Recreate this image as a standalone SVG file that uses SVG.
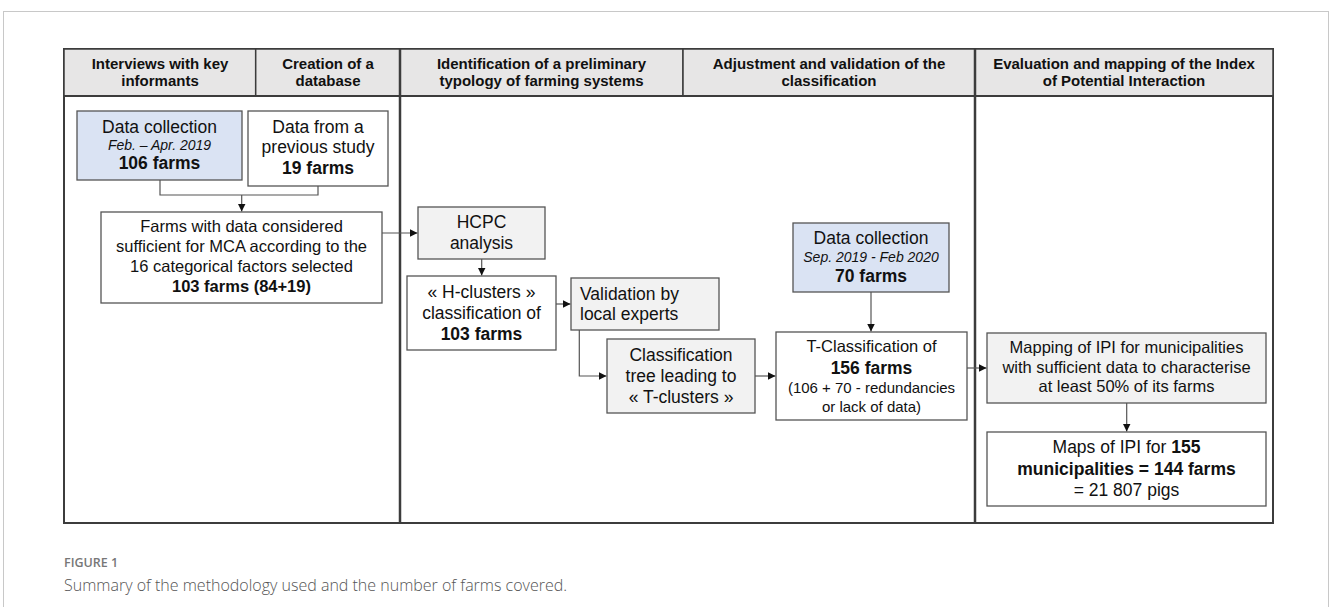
<svg xmlns="http://www.w3.org/2000/svg" width="1331" height="607" viewBox="0 0 1331 607">
<style>
  text { font-family: "Liberation Sans", Arial, sans-serif; fill: #111; }
  .hd { font-size: 15px; font-weight: bold; text-anchor: middle; }
  .t { font-size: 17.5px; text-anchor: middle; }
  .s { font-size: 16.5px; text-anchor: middle; }
  .sm { font-size: 15px; text-anchor: middle; }
  .it { font-size: 14px; font-style: italic; text-anchor: middle; }
  .b { font-weight: bold; }
  .box { stroke: #555; stroke-width: 1.3; }
  .w { fill: #fff; }
  .g { fill: #f2f2f2; }
  .bl { fill: #dae3f3; }
  .hdr { fill: #e7e6e6; stroke: #3c3c3c; stroke-width: 1.5; }
  .con { fill: none; stroke: #555; stroke-width: 1.2; }
  .cap1 { font-family: "Open Sans", "Liberation Sans", sans-serif; font-size: 12.5px; font-weight: 600; fill: #777; }
  .cap2 { font-family: "Open Sans", "Liberation Sans", sans-serif; font-size: 16px; font-weight: 300; fill: #555; }
</style>
<defs>
  <marker id="arr" markerUnits="userSpaceOnUse" markerWidth="8" markerHeight="8" refX="8" refY="4" orient="auto">
    <path d="M0,0 L8,4 L0,8 z" fill="#111"/>
  </marker>
</defs>
<rect x="3.5" y="11.5" width="1325" height="640" fill="#fff" stroke="#c8c8c8" stroke-width="1"/>

<g id="frame">
  <rect x="64" y="49" width="1209" height="474" fill="#fff" stroke="#3c3c3c" stroke-width="2"/>
  <rect class="hdr" x="64" y="49" width="191.7" height="47"/>
  <rect class="hdr" x="255.7" y="49" width="144.3" height="47"/>
  <rect class="hdr" x="400" y="49" width="283" height="47"/>
  <rect class="hdr" x="683" y="49" width="292" height="47"/>
  <rect class="hdr" x="975" y="49" width="298" height="47"/>
  <line x1="400" y1="49" x2="400" y2="523" stroke="#3c3c3c" stroke-width="2.5"/>
  <line x1="975" y1="49" x2="975" y2="523" stroke="#3c3c3c" stroke-width="2.5"/>
  <line x1="64" y1="96" x2="1273" y2="96" stroke="#3c3c3c" stroke-width="2"/>
  <text class="hd" x="160" y="69">Interviews with key</text>
  <text class="hd" x="160" y="86">informants</text>
  <text class="hd" x="328" y="69">Creation of a</text>
  <text class="hd" x="328" y="86">database</text>
  <text class="hd" x="541.5" y="69">Identification of a preliminary</text>
  <text class="hd" x="541.5" y="86">typology of farming systems</text>
  <text class="hd" x="829" y="69">Adjustment and validation of the</text>
  <text class="hd" x="829" y="86">classification</text>
  <text class="hd" x="1124" y="69">Evaluation and mapping of the Index</text>
  <text class="hd" x="1124" y="86">of Potential Interaction</text>
</g>

<g id="connectors">
  <path class="con" d="M160,180 V195 H318 V186"/>
  <path class="con" d="M241.7,195 V211.5" marker-end="url(#arr)"/>
  <path class="con" d="M382,233 H417.5" marker-end="url(#arr)"/>
  <path class="con" d="M481.7,259 V275.5" marker-end="url(#arr)"/>
  <path class="con" d="M556,304 H570.5" marker-end="url(#arr)"/>
  <path class="con" d="M579.3,330 V376 H606.5" marker-end="url(#arr)"/>
  <path class="con" d="M755,376 H775.5" marker-end="url(#arr)"/>
  <path class="con" d="M871,292 V331.5" marker-end="url(#arr)"/>
  <path class="con" d="M967,368 H986.5" marker-end="url(#arr)"/>
  <path class="con" d="M1126.7,403 V431.5" marker-end="url(#arr)"/>
</g>

<g id="dc1">
  <rect class="box bl" x="77" y="111" width="165" height="69"/>
  <text class="t" x="159.5" y="133">Data collection</text>
  <text class="it" x="159.5" y="150">Feb. – Apr. 2019</text>
  <text class="t b" x="159.5" y="169">106 farms</text>
</g>
<g id="prev">
  <rect class="box w" x="248" y="111" width="140" height="75"/>
  <text class="t" x="318" y="133">Data from a</text>
  <text class="t" x="318" y="153">previous study</text>
  <text class="t b" x="318" y="174">19 farms</text>
</g>
<g id="farms">
  <rect class="box w" x="101" y="212" width="281" height="91"/>
  <text class="s" x="241.5" y="232">Farms with data considered</text>
  <text class="s" x="241.5" y="252">sufficient for MCA according to the</text>
  <text class="s" x="241.5" y="272">16 categorical factors selected</text>
  <text class="s b" x="241.5" y="292">103 farms (84+19)</text>
</g>
<g id="hcpc">
  <rect class="box g" x="418" y="207" width="127" height="52"/>
  <text class="t" x="481.5" y="228">HCPC</text>
  <text class="t" x="481.5" y="249">analysis</text>
</g>
<g id="hclusters">
  <rect class="box w" x="407" y="276" width="149" height="74"/>
  <text class="t" x="481.5" y="298">« H-clusters »</text>
  <text class="t" x="481.5" y="319">classification of</text>
  <text class="t b" x="481.5" y="340">103 farms</text>
</g>
<g id="validation">
  <rect class="box g" x="571" y="278" width="148" height="52"/>
  <text class="t" x="580" y="300" style="text-anchor:start">Validation by</text>
  <text class="t" x="580" y="320" style="text-anchor:start">local experts</text>
</g>
<g id="tree">
  <rect class="box g" x="607" y="339" width="148" height="74"/>
  <text class="t" x="681" y="361">Classification</text>
  <text class="t" x="681" y="382">tree leading to</text>
  <text class="t" x="681" y="403">« T-clusters »</text>
</g>
<g id="dc2">
  <rect class="box bl" x="793" y="223" width="156" height="69"/>
  <text class="t" x="871" y="244">Data collection</text>
  <text class="it" x="871" y="262">Sep. 2019 - Feb 2020</text>
  <text class="t b" x="871" y="282">70 farms</text>
</g>
<g id="tclass">
  <rect class="box w" x="776" y="332" width="191" height="88"/>
  <text class="s" x="871.5" y="352">T-Classification of</text>
  <text class="t b" x="871.5" y="374">156 farms</text>
  <text class="sm" x="871.5" y="393">(106 + 70 - redundancies</text>
  <text class="sm" x="871.5" y="412">or lack of data)</text>
</g>
<g id="mapping">
  <rect class="box g" x="987" y="333" width="279" height="70"/>
  <text class="s" x="1126.5" y="353">Mapping of IPI for municipalities</text>
  <text class="s" x="1126.5" y="373">with sufficient data to characterise</text>
  <text class="s" x="1126.5" y="392">at least 50% of its farms</text>
</g>
<g id="maps">
  <rect class="box w" x="987" y="432" width="279" height="74"/>
  <text class="t" x="1126.5" y="453">Maps of IPI for <tspan class="b">155</tspan></text>
  <text class="t b" x="1126.5" y="475">municipalities = 144 farms</text>
  <text class="t" x="1126.5" y="496">= 21 807 pigs</text>
</g>

<g id="caption">
  <text class="cap1" x="64" y="567">FIGURE 1</text>
  <text class="cap2" x="64" y="591">Summary of the methodology used and the number of farms covered.</text>
</g>
</svg>
